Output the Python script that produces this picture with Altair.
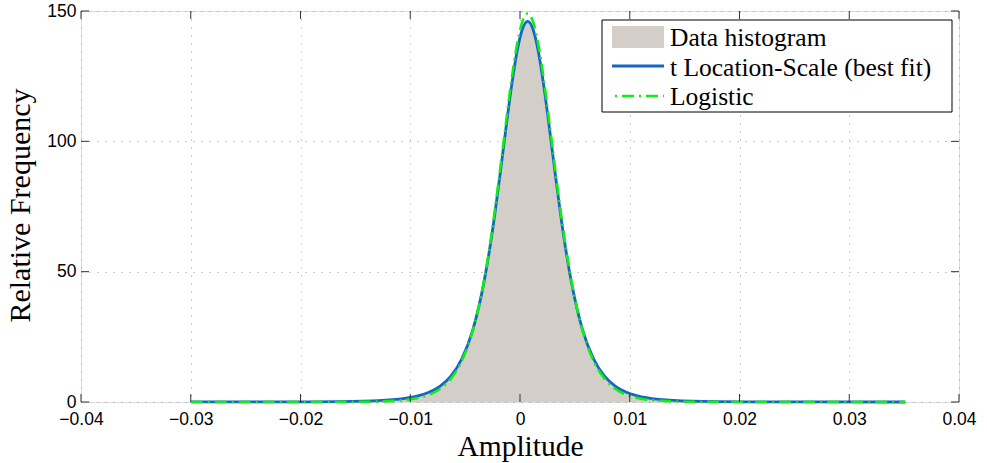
import altair as alt
import pandas as pd

# ---- data ----
x_fit = [-0.0300, -0.0243, -0.0193, -0.0143, -0.0113, -0.0093, -0.0083, -0.0073, -0.0063,
         -0.0053, -0.0043, -0.0033, -0.0028, -0.0023, -0.0018, -0.0013, -0.0008, -0.0003,
         0.0002, 0.0007, 0.0012, 0.0017, 0.0022, 0.0027, 0.0032, 0.0037, 0.0042, 0.0047,
         0.0057, 0.0067, 0.0077, 0.0087, 0.0097, 0.0107, 0.0127, 0.0157, 0.0207, 0.0257, 0.0351]
t_fit = [0.01, 0.02, 0.07, 0.33, 1.00, 2.35, 3.73, 6.03, 9.93, 16.6, 27.7, 45.6, 57.7, 71.9,
         87.8, 104.4, 120.3, 133.8, 142.8, 146.0, 142.8, 133.8, 120.3, 104.4, 87.8, 71.9, 57.7,
         45.6, 27.7, 16.6, 9.93, 6.03, 3.73, 2.35, 1.00, 0.33, 0.07, 0.02, 0.005]
logistic_fit = [0.0, 0.0, 0.004, 0.078, 0.47, 1.53, 2.76, 4.98, 8.95, 15.8, 27.4, 46.0, 58.5,
                73.2, 89.5, 106.4, 122.8, 136.5, 145.7, 149.0, 145.7, 136.5, 122.8, 106.4, 89.5,
                73.2, 58.5, 46.0, 27.4, 15.8, 8.95, 4.98, 2.76, 1.53, 0.47, 0.078, 0.004, 0.0, 0.0]
x_hist = x_fit[4:35]
hist = [0.9, 2.3, 3.7, 6.0, 9.9, 16.5, 27.6, 45.5, 57.6, 71.8, 87.7, 104.3, 120.2, 133.7,
        142.7, 145.9, 142.7, 133.7, 120.2, 104.3, 87.7, 71.8, 57.6, 45.5, 27.6, 16.5, 9.9,
        6.0, 3.7, 2.3, 0.9]
x_ticks = [-0.04, -0.03, -0.02, -0.01, 0.0, 0.01, 0.02, 0.03, 0.04]
y_ticks = [0, 50, 100, 150]
legend_labels = ["Data histogram", "t Location-Scale (best fit)", "Logistic"]

W, H = 878, 391
FRAME = "#333333"
HIST_COLOR = "#d3cfc8"
BLUE = "#1565c8"
GREEN = "#11ee11"
GRID = "#9a9a9a"

fit_df = pd.DataFrame({"x": x_fit, "t": t_fit, "logistic": logistic_fit})
hist_df = pd.DataFrame({"x": x_hist, "y": hist})
xt_df = pd.DataFrame({"x": x_ticks})
yt_df = pd.DataFrame({"y": y_ticks})

xscale = alt.Scale(domain=[-0.04, 0.04], nice=False, zero=False)
yscale = alt.Scale(domain=[0, 150], nice=False)

xaxis = alt.Axis(values=x_ticks, labelExpr="datum.value == 0 ? '0' : format(datum.value, '.2f')",
                 title="Amplitude", grid=True, ticks=False, domain=False,
                 labelFont="Liberation Sans", labelFontSize=17.5, labelColor="black",
                 labelPadding=8, labelFlush=False,
                 titleFont="Liberation Serif", titleFontSize=29.5, titleFontWeight="normal",
                 titleColor="black", titleBaseline="alphabetic", titleY=53,
                 gridColor=GRID, gridDash=[1, 7], gridWidth=1)
yaxis = alt.Axis(values=y_ticks, title="Relative Frequency", grid=True, ticks=False, domain=False,
                 labelFont="Liberation Sans", labelFontSize=17.5, labelColor="black",
                 labelPadding=5, labelFlush=False,
                 titleFont="Liberation Serif", titleFontSize=30, titleFontWeight="normal",
                 titleColor="black", titleBaseline="alphabetic", titleX=-52, titleY=194,
                 gridColor=GRID, gridDash=[1, 7], gridWidth=1)

area = alt.Chart(hist_df).mark_area(color=HIST_COLOR, opacity=1, interpolate="monotone").encode(
    x=alt.X("x:Q", scale=xscale, axis=xaxis),
    y=alt.Y("y:Q", scale=yscale, axis=yaxis),
)
tline = alt.Chart(fit_df).mark_line(color=BLUE, strokeWidth=2.8, interpolate="monotone").encode(
    x=alt.X("x:Q", scale=xscale), y=alt.Y("t:Q", scale=yscale))
lline = alt.Chart(fit_df).mark_line(color=GREEN, strokeWidth=2.6, strokeDash=[12, 5, 2, 5],
                                    interpolate="monotone").encode(
    x=alt.X("x:Q", scale=xscale), y=alt.Y("logistic:Q", scale=yscale))

# inward ticks (MATLAB box style)
tk = dict(color=FRAME, thickness=1, size=8, opacity=1)
xt_bottom = alt.Chart(xt_df).mark_tick(orient="vertical", **tk).encode(
    x=alt.X("x:Q", scale=xscale), y=alt.value(H - 4))
xt_top = alt.Chart(xt_df).mark_tick(orient="vertical", **tk).encode(
    x=alt.X("x:Q", scale=xscale), y=alt.value(4))
yt_left = alt.Chart(yt_df).mark_tick(orient="horizontal", **tk).encode(
    y=alt.Y("y:Q", scale=yscale), x=alt.value(4))
yt_right = alt.Chart(yt_df).mark_tick(orient="horizontal", **tk).encode(
    y=alt.Y("y:Q", scale=yscale), x=alt.value(W - 4))

# legend
leg_df = pd.DataFrame({"label": legend_labels})
leg_box = alt.Chart(leg_df.head(1)).mark_rect(fill="white", stroke="black", strokeWidth=1).encode(
    x=alt.value(521), x2=alt.value(871), y=alt.value(9), y2=alt.value(101))
leg_swatch = alt.Chart(leg_df.head(1)).mark_rect(fill=HIST_COLOR).encode(
    x=alt.value(531), x2=alt.value(583), y=alt.value(15), y2=alt.value(37))
leg_blue = alt.Chart(leg_df.head(1)).mark_rule(color=BLUE, strokeWidth=2.8).encode(
    x=alt.value(531), x2=alt.value(583), y=alt.value(55))
leg_green = alt.Chart(leg_df.head(1)).mark_rule(color=GREEN, strokeWidth=2.6,
                                                strokeDash=[12, 5, 2, 5], strokeDashOffset=-10).encode(
    x=alt.value(531), x2=alt.value(583), y=alt.value(85))
txt = dict(font="Liberation Serif", fontSize=25.5, color="black", align="left", baseline="middle")
leg_t1 = alt.Chart(leg_df.iloc[[0]]).mark_text(**txt).encode(
    x=alt.value(589), y=alt.value(27), text="label:N")
leg_t2 = alt.Chart(leg_df.iloc[[1]]).mark_text(**txt).encode(
    x=alt.value(589), y=alt.value(57), text="label:N")
leg_t3 = alt.Chart(leg_df.iloc[[2]]).mark_text(**txt).encode(
    x=alt.value(589), y=alt.value(86), text="label:N")

chart = alt.layer(
    area, tline, lline, xt_bottom, xt_top, yt_left, yt_right,
    leg_box, leg_swatch, leg_blue, leg_green, leg_t1, leg_t2, leg_t3,
).properties(
    width=W, height=H,
    autosize=alt.AutoSizeParams(type="none"),
    padding={"left": 81, "top": 11, "right": 28, "bottom": 61},
).configure_view(
    stroke=FRAME, strokeWidth=1, fill="white"
).configure(background="white")

chart.save("out.html", embed_options={"renderer": "svg", "actions": False})
